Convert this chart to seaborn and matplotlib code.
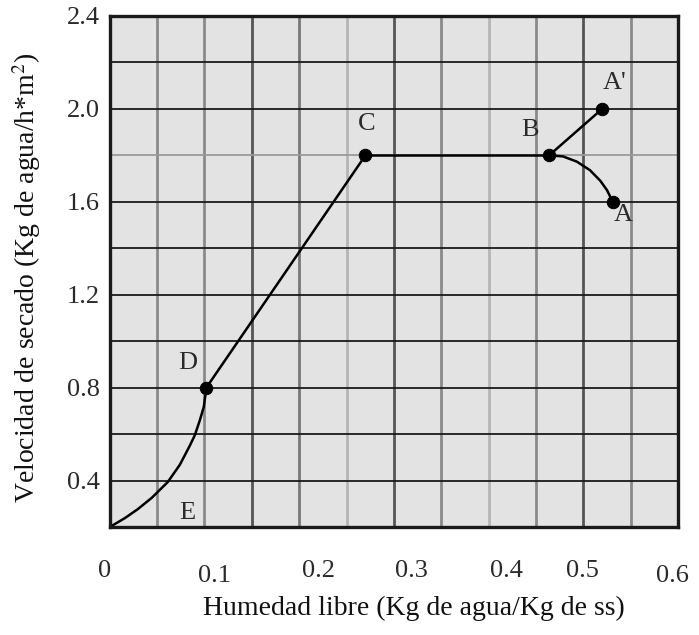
import matplotlib
matplotlib.use("Agg")
import matplotlib.pyplot as plt
import matplotlib.transforms as mtransforms
import numpy as np
import pandas as pd
import seaborn as sns

# Drying-rate curve: free moisture (x) vs drying rate (y)
seg_ed_x = [0.0, 0.0158, 0.0296, 0.0444, 0.0613, 0.074, 0.0845, 0.0898, 0.095, 0.0993, 0.102]
seg_ed_y = [0.2, 0.238, 0.277, 0.326, 0.394, 0.468, 0.55, 0.595, 0.658, 0.717, 0.80]
seg_dc_x = [0.102, 0.27]
seg_dc_y = [0.80, 1.80]
seg_cb_x = [0.27, 0.464]
seg_cb_y = [1.80, 1.80]
seg_ba2_x = [0.464, 0.52]
seg_ba2_y = [1.80, 2.00]
seg_ba_x = [0.464, 0.4786, 0.493, 0.507, 0.518, 0.525, 0.531]
seg_ba_y = [1.80, 1.795, 1.773, 1.736, 1.69, 1.65, 1.60]

point_names = ["E", "D", "C", "B", "A'", "A"]
point_x = [0.0, 0.102, 0.27, 0.464, 0.52, 0.531]
point_y = [0.2, 0.80, 1.80, 1.80, 2.00, 1.60]
marked = [False, True, True, True, True, True]
label_x = [0.082, 0.082, 0.2715, 0.444, 0.533, 0.542]
label_y = [0.26, 0.906, 1.935, 1.909, 2.112, 1.543]

x_ticks = [0, 0.1, 0.2, 0.3, 0.4, 0.5, 0.6]
x_tick_labels = ["0", "0.1", "0.2", "0.3", "0.4", "0.5", "0.6"]
y_ticks = [0.4, 0.8, 1.2, 1.6, 2.0, 2.4]
y_tick_labels = ["0.4", "0.8", "1.2", "1.6", "2.0", "2.4"]

sns.set_style("white")
plt.rcParams["font.family"] = ["Liberation Serif", "DejaVu Serif"]
plt.rcParams["mathtext.fontset"] = "stix"

fig = plt.figure(figsize=(6.99, 6.35), dpi=100)
ax = fig.add_axes([0.157, 0.170, 0.813, 0.805])
ax.set_facecolor("#e3e3e3")
ax.set_xlim(0, 0.6)
ax.set_ylim(0.2, 2.4)

# Graph-paper grid: vertical rules in varying grey, horizontal rules dark
v_grid = np.arange(0.05, 0.6, 0.05)
v_shades = ["#8a8a8a", "#8a8a8a", "#555555", "#777777", "#b5b5b5", "#555555",
            "#8a8a8a", "#b5b5b5", "#8a8a8a", "#555555", "#8a8a8a"]
for xv, c in zip(v_grid, v_shades):
    ax.axvline(xv, color=c, lw=2.0, zorder=1)
h_grid = np.arange(0.4, 2.4, 0.2)
for yv in h_grid:
    shade = "#9a9a9a" if abs(yv - 1.8) < 1e-6 else "#1a1a1a"
    ax.axhline(yv, color=shade, lw=1.3, zorder=1)

segments = [(seg_ed_x, seg_ed_y), (seg_dc_x, seg_dc_y), (seg_cb_x, seg_cb_y),
            (seg_ba2_x, seg_ba2_y), (seg_ba_x, seg_ba_y)]
for sx, sy in segments:
    df = pd.DataFrame({"x": sx, "y": sy})
    sns.lineplot(data=df, x="x", y="y", sort=False, color="black", lw=1.8,
                 ax=ax, zorder=3)

pts = pd.DataFrame({"x": point_x, "y": point_y, "name": point_names, "m": marked})
sns.scatterplot(data=pts[pts["m"]], x="x", y="y", color="black", s=80,
                edgecolor="black", ax=ax, zorder=4, legend=False)

for name, lx, ly in zip(point_names, label_x, label_y):
    ax.text(lx, ly, name, fontsize=19, ha="center", va="center",
            color="#2a2a2a", zorder=5)

ax.set_xticks(x_ticks)
ax.set_xticklabels(x_tick_labels)
ax.set_yticks(y_ticks)
ax.set_yticklabels(y_tick_labels)
ax.tick_params(axis="x", length=0, pad=24, labelsize=19, colors="#2a2a2a")
ax.tick_params(axis="y", length=0, pad=7, labelsize=19, colors="#2a2a2a")

# hand-lettered scale: the x numerals sit slightly off their rulings
nudge_px = [(-5, 0), (10, -5), (19, 0), (18, 0), (18, 0), (-1, 0), (-6, -5)]
for lab, (dx, dy) in zip(ax.get_xticklabels(), nudge_px):
    off = mtransforms.ScaledTranslation(dx / 100, dy / 100, fig.dpi_scale_trans)
    lab.set_transform(lab.get_transform() + off)

ax.set_xlabel("Humedad libre (Kg de agua/Kg de ss)", fontsize=20,
              labelpad=6, color="#111111")
ax.xaxis.set_label_coords(0.535, -0.135)
ax.set_ylabel("Velocidad de secado (Kg de agua/h*m$^2$)", fontsize=20,
              labelpad=12, color="#111111")
ax.yaxis.set_label_coords(-0.118, 0.487)

for side in ["left", "bottom", "top", "right"]:
    ax.spines[side].set_visible(True)
    ax.spines[side].set_color("#1a1a1a")
    ax.spines[side].set_linewidth(2.4)
    ax.spines[side].set_zorder(6)

fig.savefig("out.png", dpi=100, facecolor="white")
